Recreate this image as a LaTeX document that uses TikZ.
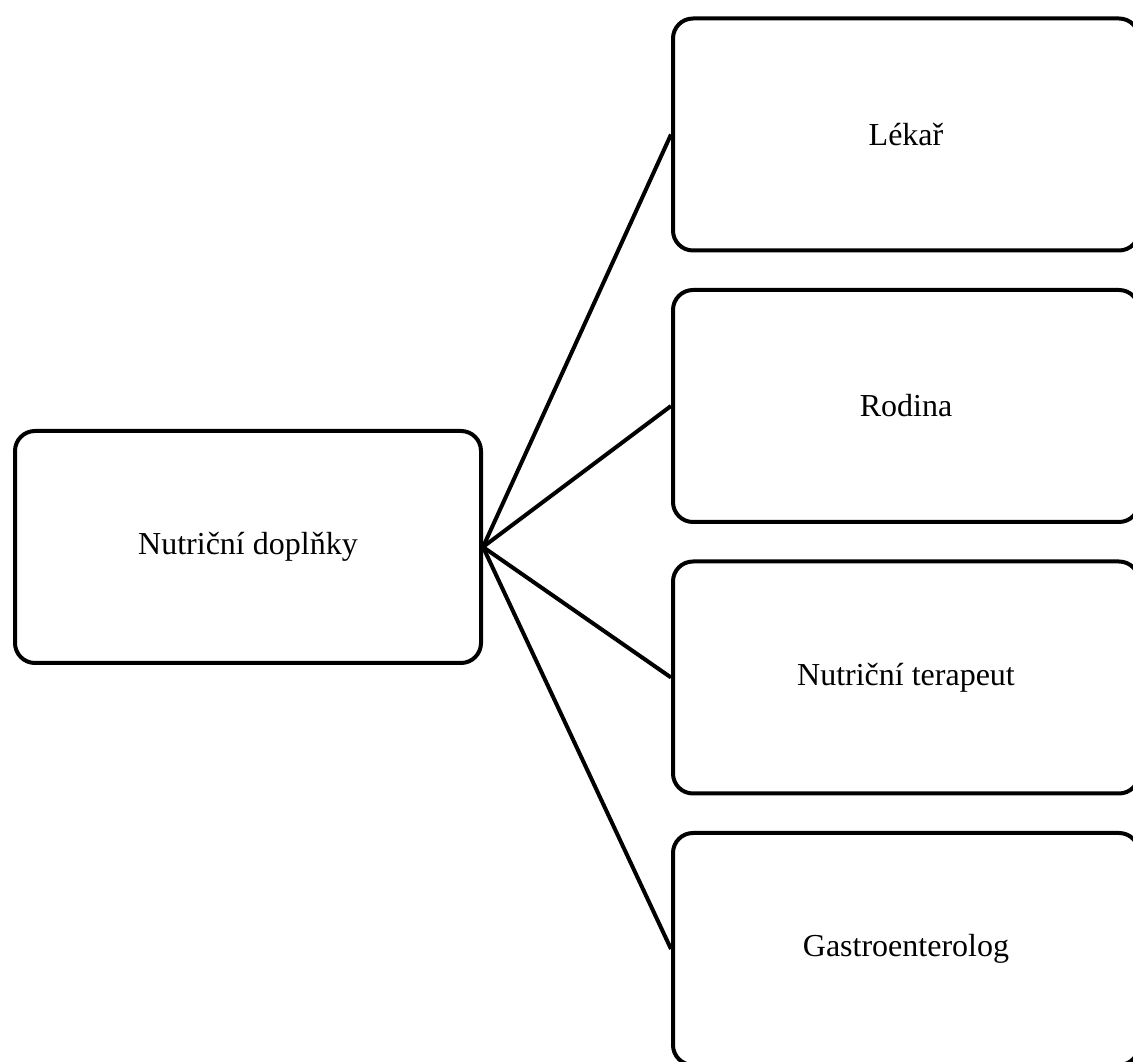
\documentclass[tikz,border=0pt]{standalone}
\usepackage{fontspec}
\setmainfont{Liberation Serif}
\begin{document}
\begin{tikzpicture}[x=1pt,y=1pt,
  box/.style={draw=black,line width=4pt,rounded corners=20pt,
    minimum width=466pt,minimum height=232pt,inner sep=0pt,
    font=\fontsize{32}{38}\selectfont,fill=white},
  link/.style={draw=black,line width=4pt}]
\path[use as bounding box,clip] (0,0) rectangle (1133,1061);
\node[box] (L) at (248,514) {Nutriční doplňky};
\node[box] (R1) at (906,926.5) {Lékař};
\node[box] (R2) at (906,655) {Rodina};
\node[box] (R3) at (906,383.5) {Nutriční terapeut};
\node[box] (R4) at (906,112) {Gastroenterolog};
\foreach \r in {R1,R2,R3,R4}{\draw[link] (L.east) -- (\r.west);}
\end{tikzpicture}
\end{document}
